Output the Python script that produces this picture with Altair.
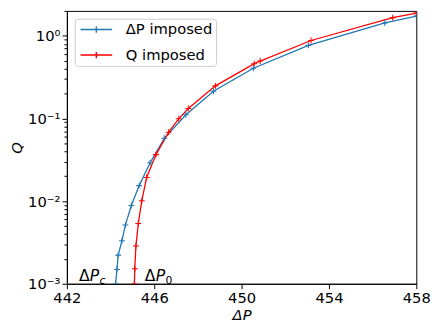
import altair as alt
import pandas as pd

# Blue series: ΔP imposed
dp_x = [444.23, 444.29, 444.35, 444.52, 444.68, 444.95, 445.31, 445.81, 446.46,
        447.45, 448.71, 450.54, 453.06, 456.56, 458.0]
dp_q = [1.0e-3, 1.49e-3, 2.22e-3, 3.32e-3, 5.13e-3, 8.85e-3, 1.54e-2, 2.91e-2, 5.75e-2,
        0.111, 0.213, 0.405, 0.766, 1.43, 1.73]
# Red series: Q imposed
q_x = [445.09, 445.11, 445.16, 445.27, 445.43, 445.65, 446.08, 446.66, 447.12,
       447.56, 448.80, 450.58, 450.85, 453.18, 456.92, 458.0]
q_q = [1.0e-3, 1.52e-3, 2.87e-3, 5.37e-3, 1.01e-2, 1.93e-2, 3.65e-2, 6.82e-2, 0.099,
       0.132, 0.248, 0.46, 0.495, 0.877, 1.66, 1.88]

series = ["ΔP imposed", "Q imposed"]
colors = ["#1f77b4", "#ff0000"]

x_ticks = [442, 446, 450, 454, 458]
y_major = [1e-3, 1e-2, 1e-1, 1e0]
y_labels = ["10⁻³", "10⁻²", "10⁻¹", "10⁰"]
y_minor = [2e-3, 3e-3, 4e-3, 5e-3, 6e-3, 7e-3, 8e-3, 9e-3,
           2e-2, 3e-2, 4e-2, 5e-2, 6e-2, 7e-2, 8e-2, 9e-2,
           2e-1, 3e-1, 4e-1, 5e-1, 6e-1, 7e-1, 8e-1, 9e-1, 2.0]

ann_x = [442.55, 445.57]
ann_y = [1.09e-3, 1.09e-3]
ann_sub = ["c", "0"]

df = pd.DataFrame({
    "dP": dp_x + q_x,
    "Q": dp_q + q_q,
    "series": [series[0]] * len(dp_x) + [series[1]] * len(q_x),
})
ann = pd.DataFrame({"x": ann_x, "y": ann_y, "sub": ann_sub})

FONT = "DejaVu Sans"
xscale = alt.Scale(domain=[442, 458], nice=False, zero=False)
yscale = alt.Scale(type="log", domain=[1e-3, 2.0], nice=False)

label_expr = "[" + ",".join("'" + s + "'" for s in y_labels) + "][round(log(datum.value)/log(10))+3]"

x_axis = alt.Axis(values=x_ticks, title="ΔP", titleFontStyle="italic", labelFlush=False,
                  format="d", titlePadding=2)

lines = alt.Chart(df).mark_line(
    strokeWidth=1.3, clip=True,
    point=alt.OverlayMarkDef(shape="M-1,0L1,0M0,-1L0,1", filled=False, size=36, strokeWidth=1.1),
).encode(
    x=alt.X("dP:Q", scale=xscale, axis=x_axis),
    y=alt.Y("Q:Q", scale=yscale,
            axis=alt.Axis(values=y_major, labelExpr=label_expr, title="Q", titleFontStyle="italic",
                          labelFlush=False, titlePadding=3, orient="left")),
    color=alt.Color("series:N", scale=alt.Scale(domain=series, range=colors),
                    legend=alt.Legend(orient="top-left", offset=8, padding=3, title=None,
                                      strokeColor="#cccccc", fillColor="white", cornerRadius=3,
                                      labelFontSize=15, labelFont=FONT, labelColor="black",
                                      symbolType="M-2.3,0L2.3,0M0,-0.45L0,0.45", symbolSize=196,
                                      symbolStrokeWidth=1.5, symbolFillColor="transparent",
                                      symbolOffset=11, rowPadding=10, labelOffset=22)),
    order="dP:Q",
)

base_ann = alt.Chart(ann)
delta = base_ann.mark_text(align="left", baseline="alphabetic", fontSize=16, font=FONT, color="black").encode(
    x=alt.X("x:Q", scale=xscale, axis=x_axis),
    y=alt.Y("y:Q", scale=yscale,
            axis=alt.Axis(values=y_minor, labels=False, ticks=True, tickSize=3, domain=False,
                          title=None, orient="left", grid=False)),
    text=alt.value("Δ"),
)
pee = base_ann.mark_text(align="left", baseline="alphabetic", fontSize=16, font=FONT, color="black",
                         fontStyle="italic", dx=11).encode(
    x=alt.X("x:Q", scale=xscale, axis=x_axis),
    y=alt.Y("y:Q", scale=yscale, axis=None),
    text=alt.value("P"),
)
sub_c = base_ann.transform_filter(alt.datum.sub == "c").mark_text(
    align="left", baseline="alphabetic", fontSize=11, font=FONT, color="black",
    fontStyle="italic", dx=21, dy=3).encode(
    x=alt.X("x:Q", scale=xscale, axis=x_axis),
    y=alt.Y("y:Q", scale=yscale, axis=None),
    text="sub:N",
)
sub_0 = base_ann.transform_filter(alt.datum.sub == "0").mark_text(
    align="left", baseline="alphabetic", fontSize=11, font=FONT, color="black",
    dx=21, dy=3).encode(
    x=alt.X("x:Q", scale=xscale, axis=x_axis),
    y=alt.Y("y:Q", scale=yscale, axis=None),
    text="sub:N",
)

chart = alt.layer(lines, delta, pee, sub_c, sub_0).resolve_axis(y="independent", x="shared").properties(
    width=356, height=278,
    autosize=alt.AutoSizeParams(type="none"),
    padding={"left": 60, "top": 0, "right": 17, "bottom": 37},
).configure_view(stroke="black", strokeWidth=1).configure_axis(
    labelFont=FONT, labelFontSize=15, labelColor="black", titleFont=FONT, titleFontSize=15,
    titleFontWeight="normal", titleColor="black", tickColor="black", domainColor="black",
    tickSize=5, grid=False,
)

chart.save("out.html", embed_options={"renderer": "svg", "actions": False})
